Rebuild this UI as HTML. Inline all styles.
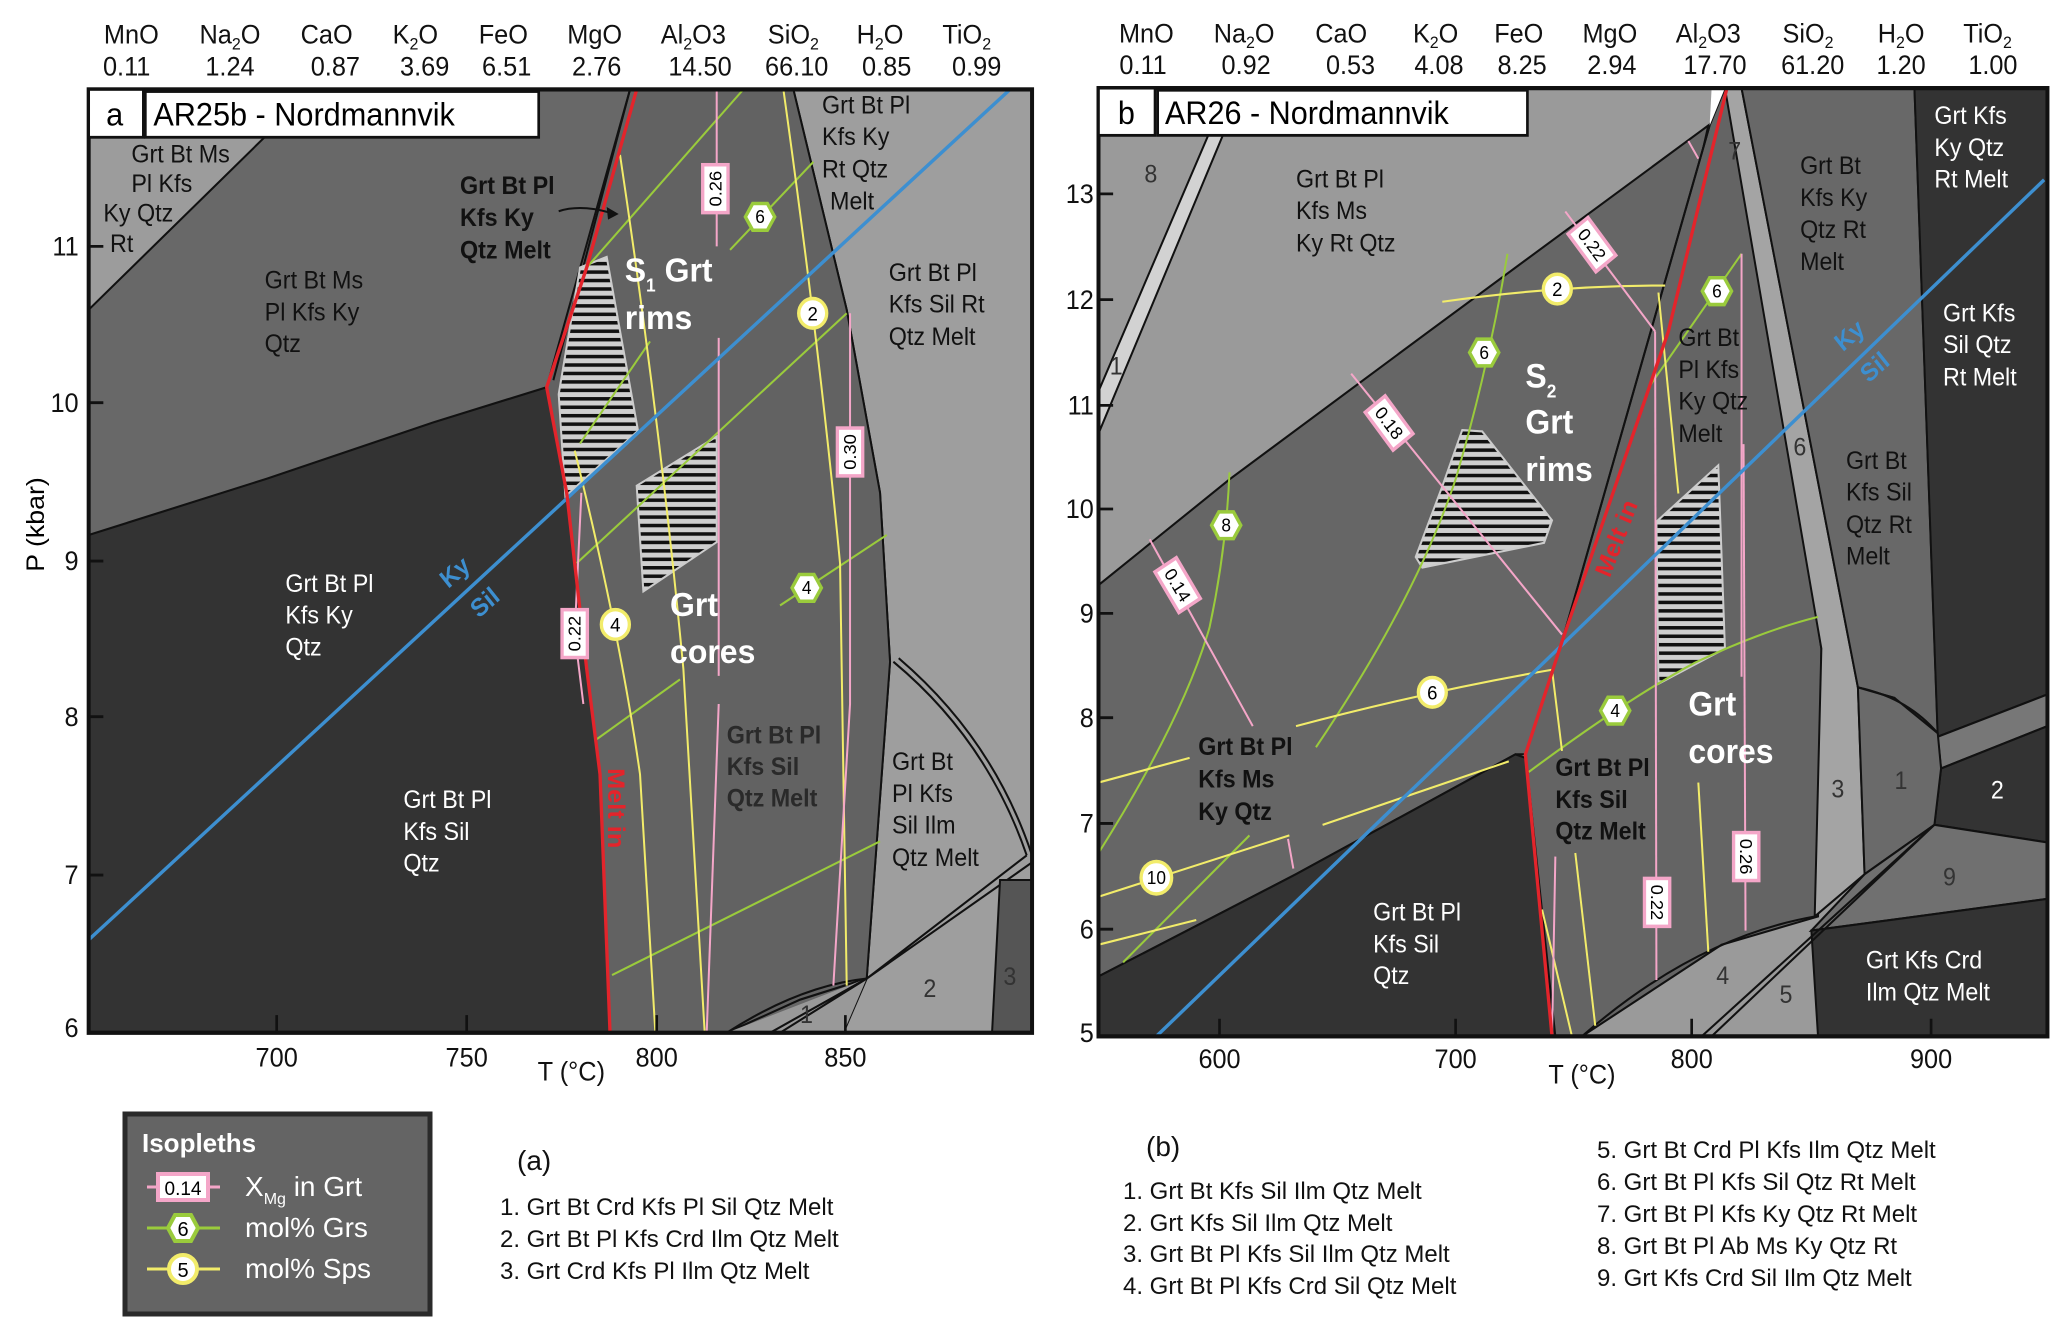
<!DOCTYPE html>
<html><head><meta charset="utf-8"><style>
html,body{margin:0;padding:0;background:#fff}
svg{display:block}
text{font-family:"Liberation Sans",Arial,sans-serif}
</style></head><body>
<svg width="2067" height="1335" viewBox="0 0 2067 1335" xmlns="http://www.w3.org/2000/svg">
<defs>
<pattern id="hat" patternUnits="userSpaceOnUse" width="12" height="12">
<rect width="12" height="12" fill="#cfcfcf"/><rect y="0" width="12" height="5" fill="#111"/>
</pattern>
</defs>

<!-- ================= PANEL A ================= -->
<g transform="scale(0.6667,0.704)">
<g font-size="38" fill="#111" text-anchor="middle">
<text x="197" y="62">MnO</text><text x="345" y="62">Na<tspan font-size="24" dy="8">2</tspan><tspan dy="-8">O</tspan></text>
<text x="490" y="62">CaO</text><text x="623" y="62">K<tspan font-size="24" dy="8">2</tspan><tspan dy="-8">O</tspan></text>
<text x="755" y="62">FeO</text><text x="892" y="62">MgO</text><text x="1040" y="62">Al<tspan font-size="24" dy="8">2</tspan><tspan dy="-8">O3</tspan></text>
<text x="1190" y="62">SiO<tspan font-size="24" dy="8">2</tspan></text><text x="1320" y="62">H<tspan font-size="24" dy="8">2</tspan><tspan dy="-8">O</tspan></text>
<text x="1450" y="62">TiO<tspan font-size="24" dy="8">2</tspan></text>
<text x="190" y="107">0.11</text><text x="345" y="107">1.24</text><text x="503" y="107">0.87</text><text x="637" y="107">3.69</text>
<text x="760" y="107">6.51</text><text x="895" y="107">2.76</text><text x="1050" y="107">14.50</text><text x="1195" y="107">66.10</text>
<text x="1330" y="107">0.85</text><text x="1465" y="107">0.99</text>
</g>
<rect x="133" y="127" width="1415" height="1340" fill="#686868"/>
<polygon points="133,127 470,127 133,440" fill="#9c9c9c" stroke="#111" stroke-width="3"/>
<polygon points="133,760 400,680 650,600 820,550 850,700 880,950 900,1100 915,1467 133,1467" fill="#333" stroke="#111" stroke-width="3"/>
<polygon points="1190,127 1548,127 1548,1467 1265,1467 1300,1390 1335,940 1320,700 1270,440" fill="#9e9e9e" stroke="#111" stroke-width="3"/>
<polygon points="945,127 1190,127 1270,440 1320,700 1335,940 1300,1390 1200,1420 1090,1467 915,1467 900,1100 880,950 850,700 820,550" fill="#626262" stroke="#111" stroke-width="3"/>
<path d="M1090,1467 Q1200,1400 1300,1390" fill="none" stroke="#111" stroke-width="3"/>
<polygon points="1090,1467 1300,1390 1265,1467" fill="#999"/>
<path d="M1155,1467 L1300,1390 M1170,1467 L1300,1390" stroke="#111" stroke-width="3" fill="none"/>
<path d="M1340,940 Q1480,1050 1540,1215 M1348,935 Q1490,1050 1548,1215" stroke="#111" stroke-width="3" fill="none"/>
<path d="M1300,1390 L1540,1215 M1300,1390 L1548,1225" stroke="#111" stroke-width="3" fill="none"/>
<polygon points="1500,1250 1548,1250 1548,1467 1488,1467" fill="#555" stroke="#111" stroke-width="3"/>
<path d="M945,127 L830,540" stroke="#111" stroke-width="3"/>
<polygon points="870,380 910,365 957,612 848,705 838,560" fill="url(#hat)" stroke="#ccc" stroke-width="3"/>
<polygon points="955,690 1075,620 1075,770 965,840" fill="url(#hat)" stroke="#ccc" stroke-width="3"/>
<g stroke="#9acb3c" stroke-width="3" fill="none">
<path d="M880,380 L1115,127"/><path d="M1095,355 L1220,230"/><path d="M865,800 L1270,445"/>
<path d="M870,630 L975,485"/><path d="M895,1050 L1020,965"/><path d="M1170,860 L1330,760"/>
<path d="M918,1385 L1320,1195"/>
</g>
<g stroke="#f2ec6a" stroke-width="3" fill="none">
<path d="M930,220 Q990,600 1025,950 L1057,1467"/>
<path d="M862,640 Q930,900 960,1100 L983,1467"/>
<path d="M1175,127 Q1230,500 1260,800 L1270,1400"/>
</g>
<g stroke="#f4a6c8" stroke-width="3" fill="none">
<path d="M1075,127 L1075,350"/><path d="M1078,480 L1078,960"/><path d="M1078,1000 L1060,1467"/>
<path d="M1275,445 L1275,1000 L1250,1400"/><path d="M872,700 L862,900 L875,1000"/>
</g>
<path d="M133,1335 L1515,127" stroke="#3d8fd0" stroke-width="5" fill="none"/>
<path d="M955,127 L880,380 L820,550 L850,700 L880,950 L900,1100 L915,1467" stroke="#e3242b" stroke-width="5" fill="none"/>
<g transform="translate(1073,268) rotate(-90)"><rect x="-34" y="-19" width="68" height="38" fill="#fff" stroke="#f4a6c8" stroke-width="5"/><text font-size="26" text-anchor="middle" y="9">0.26</text></g>
<g transform="translate(1275,642) rotate(-90)"><rect x="-34" y="-19" width="68" height="38" fill="#fff" stroke="#f4a6c8" stroke-width="5"/><text font-size="26" text-anchor="middle" y="9">0.30</text></g>
<g transform="translate(862,900) rotate(-90)"><rect x="-34" y="-19" width="68" height="38" fill="#fff" stroke="#f4a6c8" stroke-width="5"/><text font-size="26" text-anchor="middle" y="9">0.22</text></g>
<g transform="translate(1140,308)"><polygon points="-22,0 -11,-19 11,-19 22,0 11,19 -11,19" fill="#fff" stroke="#9acb3c" stroke-width="5"/><text font-size="26" text-anchor="middle" y="9">6</text></g>
<g transform="translate(1210,835)"><polygon points="-22,0 -11,-19 11,-19 22,0 11,19 -11,19" fill="#fff" stroke="#9acb3c" stroke-width="5"/><text font-size="26" text-anchor="middle" y="9">4</text></g>
<g transform="translate(1219,445)"><circle r="21" fill="#fff" stroke="#f2ec6a" stroke-width="5"/><text font-size="28" text-anchor="middle" y="10">2</text></g>
<g transform="translate(923,887)"><circle r="21" fill="#fff" stroke="#f2ec6a" stroke-width="5"/><text font-size="28" text-anchor="middle" y="10">4</text></g>
<rect x="133" y="127" width="1415" height="1340" fill="none" stroke="#111" stroke-width="6"/>
<rect x="133" y="127" width="82" height="68" fill="#fff" stroke="#111" stroke-width="4"/>
<rect x="218" y="130" width="590" height="65" fill="#fff" stroke="#111" stroke-width="4"/>
<text x="172" y="178" font-size="46" text-anchor="middle">a</text>
<text x="230" y="178" font-size="46">AR25b - Nordmannvik</text>
<g font-size="35" fill="#111" dominant-baseline="central">
<text x="197" y="220">Grt Bt Ms</text><text x="197" y="262">Pl Kfs</text><text x="155" y="304">Ky Qtz</text><text x="165" y="347">Rt</text>
<text x="397" y="399">Grt Bt Ms</text><text x="397" y="444">Pl Kfs Ky</text><text x="397" y="489">Qtz</text>
<text x="1233" y="150">Grt Bt Pl</text><text x="1233" y="195">Kfs Ky</text><text x="1233" y="241">Rt Qtz</text><text x="1245" y="287">Melt</text>
<text x="1333" y="388">Grt Bt Pl</text><text x="1333" y="433">Kfs Sil Rt</text><text x="1333" y="479">Qtz Melt</text>
<text x="1338" y="1083">Grt Bt</text><text x="1338" y="1128">Pl Kfs</text><text x="1338" y="1173">Sil Ilm</text><text x="1338" y="1219">Qtz Melt</text>
<g fill="#fff"><text x="428" y="830">Grt Bt Pl</text><text x="428" y="875">Kfs Ky</text><text x="428" y="920">Qtz</text>
<text x="605" y="1137">Grt Bt Pl</text><text x="605" y="1182">Kfs Sil</text><text x="605" y="1227">Qtz</text></g>
<g font-weight="bold"><text x="690" y="265">Grt Bt  Pl</text><text x="690" y="310">Kfs Ky</text><text x="690" y="356">Qtz Melt</text>
<g fill="#2a2a2a"><text x="1090" y="1045">Grt Bt Pl</text><text x="1090" y="1090">Kfs Sil</text><text x="1090" y="1135">Qtz Melt</text></g></g>
<g fill="#333"><text x="1200" y="1442">1</text><text x="1385" y="1405">2</text><text x="1505" y="1388">3</text></g>
</g>
<path d="M838,300 Q870,290 915,302" stroke="#111" stroke-width="3" fill="none"/>
<polygon points="928,304 910,294 912,312" fill="#111"/>
<g font-weight="bold" fill="#fff" font-size="48">
<text x="937" y="400">S<tspan font-size="26" dy="14">1</tspan><tspan dy="-14"> Grt</tspan></text>
<text x="937" y="467">rims</text>
<text x="1005" y="875">Grt</text><text x="1005" y="942">cores</text>
</g>
<text transform="translate(690,822) rotate(-40)" font-size="36" font-weight="bold" fill="#3d8fd0" text-anchor="middle">Ky</text>
<text transform="translate(735,865) rotate(-40)" font-size="36" font-weight="bold" fill="#3d8fd0" text-anchor="middle">Sil</text>
<text transform="translate(912,1148) rotate(90)" font-size="36" font-weight="bold" fill="#e3242b" text-anchor="middle">Melt in</text>
<g font-size="38" fill="#111" text-anchor="end">
<text x="118" y="363">11</text><text x="118" y="585">10</text><text x="118" y="810">9</text><text x="118" y="1031">8</text><text x="118" y="1256">7</text><text x="118" y="1473">6</text>
</g>
<g stroke="#111" stroke-width="4"><path d="M133,350 h22 M133,572 h22 M133,797 h22 M133,1018 h22 M133,1243 h22 M415,1467 v-25 M700,1467 v-25 M985,1467 v-25 M1268,1467 v-25"/></g>
<g font-size="38" fill="#111" text-anchor="middle">
<text x="415" y="1515">700</text><text x="700" y="1515">750</text><text x="985" y="1515">800</text><text x="1268" y="1515">850</text>
<text x="857" y="1535">T (°C)</text>
</g>
<text transform="translate(66,745) rotate(-90)" font-size="38" text-anchor="middle">P (kbar)</text>
</g>

<!-- ================= PANEL B ================= -->
<g transform="translate(1030,0) scale(0.665,0.705)">
<g font-size="38" fill="#111" text-anchor="middle">
<text x="175" y="60">MnO</text><text x="322" y="60">Na<tspan font-size="24" dy="8">2</tspan><tspan dy="-8">O</tspan></text>
<text x="468" y="60">CaO</text><text x="610" y="60">K<tspan font-size="24" dy="8">2</tspan><tspan dy="-8">O</tspan></text>
<text x="735" y="60">FeO</text><text x="872" y="60">MgO</text><text x="1020" y="60">Al<tspan font-size="24" dy="8">2</tspan><tspan dy="-8">O3</tspan></text>
<text x="1170" y="60">SiO<tspan font-size="24" dy="8">2</tspan></text><text x="1310" y="60">H<tspan font-size="24" dy="8">2</tspan><tspan dy="-8">O</tspan></text>
<text x="1440" y="60">TiO<tspan font-size="24" dy="8">2</tspan></text>
<text x="170" y="105">0.11</text><text x="325" y="105">0.92</text><text x="482" y="105">0.53</text><text x="615" y="105">4.08</text>
<text x="740" y="105">8.25</text><text x="875" y="105">2.94</text><text x="1030" y="105">17.70</text><text x="1177" y="105">61.20</text>
<text x="1310" y="105">1.20</text><text x="1448" y="105">1.00</text>
</g>
<rect x="103" y="125" width="1427" height="1345" fill="#9a9a9a"/>
<polygon points="103,555 268,192 290,192 103,615" fill="#d2d2d2" stroke="#111" stroke-width="3"/>
<polygon points="103,830 300,680 600,470 1020,178 960,430 850,800 800,910 745,1070 730,1070 400,1240 103,1385" fill="#666" stroke="#111" stroke-width="3"/>
<polygon points="103,1385 400,1240 730,1070 745,1075 790,1470 103,1470" fill="#333" stroke="#111" stroke-width="3"/>
<polygon points="1022,178 1045,125 1060,125 1190,920 1185,1300 1040,1340 830,1470 790,1470 745,1070 800,910" fill="#646464" stroke="#111" stroke-width="3"/>
<polygon points="1045,125 1070,125 1245,975 1255,1240 1180,1300 1190,920" fill="#a4a4a4" stroke="#111" stroke-width="3"/>
<polygon points="1070,125 1330,125 1365,1040 1370,1090 1300,990 1245,975" fill="#686868" stroke="#111" stroke-width="3"/>
<polygon points="1330,125 1530,125 1530,985 1365,1045" fill="#333" stroke="#111" stroke-width="3"/>
<polygon points="1365,1045 1530,985 1530,1030 1370,1090" fill="#777" stroke="#111" stroke-width="3"/>
<polygon points="1370,1090 1530,1030 1530,1195 1360,1170" fill="#333" stroke="#111" stroke-width="3"/>
<polygon points="1245,975 1300,990 1365,1040 1370,1090 1360,1170 1255,1240" fill="#6a6a6a" stroke="#111" stroke-width="3"/>
<polygon points="1360,1170 1530,1195 1530,1275 1175,1320 1255,1240" fill="#707070" stroke="#111" stroke-width="3"/>
<polygon points="1175,1320 1530,1275 1530,1470 1185,1470" fill="#333" stroke="#111" stroke-width="3"/>
<path d="M1010,1470 L1360,1170 M1025,1470 L1360,1170" stroke="#111" stroke-width="3" fill="none"/>
<path d="M830,1470 Q1000,1330 1180,1300" stroke="#111" stroke-width="3" fill="none"/>
<path d="M1245,975 Q1320,990 1365,1040" stroke="#111" stroke-width="3" fill="none"/>
<polygon points="1025,125 1045,125 1022,178" fill="#fff"/>
<path d="M1022,178 L800,910" stroke="#111" stroke-width="3"/>
<polygon points="650,610 680,612 785,738 773,770 590,805 580,790 620,690" fill="url(#hat)" stroke="#ccc" stroke-width="3"/>
<polygon points="942,740 1035,660 1045,920 945,970" fill="url(#hat)" stroke="#ccc" stroke-width="3"/>
<g stroke="#9acb3c" stroke-width="3" fill="none">
<path d="M103,1210 Q230,1020 270,890 Q295,780 300,670"/>
<path d="M430,1060 Q580,850 640,680 Q690,520 718,360"/>
<path d="M140,1365 L330,1185"/>
<path d="M750,1095 Q900,990 1000,940 Q1100,895 1185,875"/>
<path d="M930,550 L1070,360"/>
</g>
<g stroke="#f2ec6a" stroke-width="3" fill="none">
<path d="M620,428 Q790,405 955,405"/>
<path d="M103,1110 L240,1075"/><path d="M400,1030 Q600,980 785,950 L800,1065"/>
<path d="M103,1272 L390,1185"/><path d="M440,1170 L720,1080"/>
<path d="M103,1340 L250,1305"/>
<path d="M945,415 L975,700"/><path d="M820,1210 L850,1455"/><path d="M1005,1110 L1020,1350"/><path d="M770,1290 L815,1470"/>
</g>
<g stroke="#f4a6c8" stroke-width="3" fill="none">
<path d="M180,765 L335,1030"/><path d="M388,1190 L396,1232"/>
<path d="M483,530 L800,900"/><path d="M805,300 L940,470"/><path d="M940,470 L942,1390"/>
<path d="M1073,630 L1076,1320"/><path d="M990,200 L1005,225"/><path d="M1070,360 L1070,960"/><path d="M790,1215 L785,1470"/>
</g>
<path d="M190,1470 L1525,255" stroke="#3d8fd0" stroke-width="5" fill="none"/>
<path d="M1048,125 L960,470 L800,910 L745,1070 L785,1470" stroke="#e3242b" stroke-width="5" fill="none"/>
<g transform="translate(222,830) rotate(58)"><rect x="-34" y="-19" width="68" height="38" fill="#fff" stroke="#f4a6c8" stroke-width="5"/><text font-size="26" text-anchor="middle" y="9">0.14</text></g>
<g transform="translate(540,600) rotate(52)"><rect x="-34" y="-19" width="68" height="38" fill="#fff" stroke="#f4a6c8" stroke-width="5"/><text font-size="26" text-anchor="middle" y="9">0.18</text></g>
<g transform="translate(845,347) rotate(52)"><rect x="-34" y="-19" width="68" height="38" fill="#fff" stroke="#f4a6c8" stroke-width="5"/><text font-size="26" text-anchor="middle" y="9">0.22</text></g>
<g transform="translate(943,1280) rotate(90)"><rect x="-34" y="-19" width="68" height="38" fill="#fff" stroke="#f4a6c8" stroke-width="5"/><text font-size="26" text-anchor="middle" y="9">0.22</text></g>
<g transform="translate(1077,1215) rotate(90)"><rect x="-34" y="-19" width="68" height="38" fill="#fff" stroke="#f4a6c8" stroke-width="5"/><text font-size="26" text-anchor="middle" y="9">0.26</text></g>
<g transform="translate(295,745)"><polygon points="-22,0 -11,-19 11,-19 22,0 11,19 -11,19" fill="#fff" stroke="#9acb3c" stroke-width="5"/><text font-size="26" text-anchor="middle" y="9">8</text></g>
<g transform="translate(683,500)"><polygon points="-22,0 -11,-19 11,-19 22,0 11,19 -11,19" fill="#fff" stroke="#9acb3c" stroke-width="5"/><text font-size="26" text-anchor="middle" y="9">6</text></g>
<g transform="translate(880,1008)"><polygon points="-22,0 -11,-19 11,-19 22,0 11,19 -11,19" fill="#fff" stroke="#9acb3c" stroke-width="5"/><text font-size="26" text-anchor="middle" y="9">4</text></g>
<g transform="translate(1033,413)"><polygon points="-22,0 -11,-19 11,-19 22,0 11,19 -11,19" fill="#fff" stroke="#9acb3c" stroke-width="5"/><text font-size="26" text-anchor="middle" y="9">6</text></g>
<g transform="translate(793,410)"><circle r="21" fill="#fff" stroke="#f2ec6a" stroke-width="5"/><text font-size="28" text-anchor="middle" y="10">2</text></g>
<g transform="translate(605,982)"><circle r="21" fill="#fff" stroke="#f2ec6a" stroke-width="5"/><text font-size="28" text-anchor="middle" y="10">6</text></g>
<g transform="translate(190,1245)"><circle r="23" fill="#fff" stroke="#f2ec6a" stroke-width="5"/><text font-size="26" text-anchor="middle" y="9">10</text></g>
<rect x="103" y="125" width="1427" height="1345" fill="none" stroke="#111" stroke-width="6"/>
<rect x="103" y="125" width="85" height="67" fill="#fff" stroke="#111" stroke-width="4"/>
<rect x="192" y="128" width="556" height="64" fill="#fff" stroke="#111" stroke-width="4"/>
<text x="145" y="176" font-size="46" text-anchor="middle">b</text>
<text x="203" y="176" font-size="46">AR26 - Nordmannvik</text>
<g font-size="35" fill="#111" dominant-baseline="central">
<text x="400" y="255">Grt Bt Pl</text><text x="400" y="300">Kfs Ms</text><text x="400" y="346">Ky Rt Qtz</text>
<text x="975" y="480">Grt Bt</text><text x="975" y="525">Pl Kfs</text><text x="975" y="570">Ky Qtz</text><text x="975" y="616">Melt</text>
<text x="1158" y="236">Grt Bt</text><text x="1158" y="281">Kfs Ky</text><text x="1158" y="327">Qtz Rt</text><text x="1158" y="372">Melt</text>
<text x="1227" y="654">Grt Bt</text><text x="1227" y="699">Kfs Sil</text><text x="1227" y="745">Qtz Rt</text><text x="1227" y="790">Melt</text>
<g fill="#fff"><text x="1360" y="165">Grt Kfs</text><text x="1360" y="210">Ky Qtz</text><text x="1360" y="255">Rt Melt</text>
<text x="1373" y="445">Grt Kfs</text><text x="1373" y="490">Sil Qtz</text><text x="1373" y="536">Rt Melt</text>
<text x="516" y="1295">Grt Bt Pl</text><text x="516" y="1340">Kfs Sil</text><text x="516" y="1385">Qtz</text>
<text x="1257" y="1363">Grt Kfs Crd</text><text x="1257" y="1408">Ilm Qtz Melt</text>
<text x="1445" y="1122">2</text></g>
<g font-weight="bold"><text x="253" y="1060">Grt Bt Pl</text><text x="253" y="1106">Kfs Ms</text><text x="253" y="1152">Ky Qtz</text>
<text x="790" y="1090">Grt Bt Pl</text><text x="790" y="1135">Kfs Sil</text><text x="790" y="1180">Qtz Melt</text></g>
<g fill="#333"><text x="172" y="248">8</text><text x="120" y="520">1</text><text x="1050" y="215">7</text><text x="1148" y="635">6</text>
<text x="1205" y="1120">3</text><text x="1300" y="1108">1</text><text x="1373" y="1245">9</text><text x="1032" y="1385">4</text><text x="1127" y="1412">5</text></g>
</g>
<g font-weight="bold" fill="#fff" font-size="48">
<text x="745" y="550">S<tspan font-size="26" dy="14">2</tspan></text>
<text x="745" y="615">Grt</text><text x="745" y="682">rims</text>
<text x="990" y="1015">Grt</text><text x="990" y="1082">cores</text>
</g>
<text transform="translate(1240,485) rotate(-40)" font-size="36" font-weight="bold" fill="#3d8fd0" text-anchor="middle">Ky</text>
<text transform="translate(1278,530) rotate(-40)" font-size="36" font-weight="bold" fill="#3d8fd0" text-anchor="middle">Sil</text>
<text transform="translate(893,768) rotate(-68)" font-size="36" font-weight="bold" fill="#e3242b" text-anchor="middle">Melt in</text>
<g font-size="38" fill="#111" text-anchor="end">
<text x="96" y="288">13</text><text x="96" y="438">12</text><text x="96" y="588">11</text><text x="96" y="735">10</text><text x="96" y="883">9</text>
<text x="96" y="1031">8</text><text x="96" y="1181">7</text><text x="96" y="1331">6</text><text x="96" y="1478">5</text>
</g>
<g stroke="#111" stroke-width="4"><path d="M103,275 h22 M103,425 h22 M103,575 h22 M103,722 h22 M103,870 h22 M103,1018 h22 M103,1168 h22 M103,1318 h22 M285,1470 v-25 M640,1470 v-25 M995,1470 v-25 M1355,1470 v-25"/></g>
<g font-size="38" fill="#111" text-anchor="middle">
<text x="285" y="1515">600</text><text x="640" y="1515">700</text><text x="995" y="1515">800</text><text x="1355" y="1515">900</text>
<text x="830" y="1537">T (°C)</text>
</g>
</g>

<!-- ================= LEGEND ================= -->
<rect x="125" y="1114" width="305" height="200" fill="#646464" stroke="#2a2a2a" stroke-width="5"/>
<text x="142" y="1152" font-size="26" font-weight="bold" fill="#fff">Isopleths</text>
<path d="M147,1187 H220" stroke="#f4a6c8" stroke-width="3"/>
<rect x="158" y="1174" width="50" height="26" fill="#fff" stroke="#f4a6c8" stroke-width="4"/>
<text x="183" y="1195" font-size="19" text-anchor="middle">0.14</text>
<path d="M147,1228 H220" stroke="#9acb3c" stroke-width="3"/>
<polygon points="168,1228 175,1215 191,1215 198,1228 191,1241 175,1241" fill="#fff" stroke="#9acb3c" stroke-width="4"/>
<text x="183" y="1236" font-size="20" text-anchor="middle">6</text>
<path d="M147,1269 H220" stroke="#f2ec6a" stroke-width="3"/>
<circle cx="183" cy="1269" r="14" fill="#fff" stroke="#f2ec6a" stroke-width="4"/>
<text x="183" y="1277" font-size="20" text-anchor="middle">5</text>
<g font-size="28" fill="#fff">
<text x="245" y="1196">X<tspan font-size="16" dy="8">Mg</tspan><tspan dy="-8"> in Grt</tspan></text>
<text x="245" y="1237">mol% Grs</text>
<text x="245" y="1278">mol% Sps</text>
</g>
<g font-size="24" fill="#111">
<text x="517" y="1170" font-size="28">(a)</text>
<text x="500" y="1215">1. Grt Bt Crd Kfs Pl Sil Qtz Melt</text>
<text x="500" y="1247">2. Grt Bt Pl Kfs Crd Ilm Qtz Melt</text>
<text x="500" y="1279">3. Grt Crd Kfs Pl Ilm Qtz Melt</text>
<text x="1146" y="1156" font-size="28">(b)</text>
<text x="1123" y="1199">1. Grt Bt Kfs Sil Ilm Qtz Melt</text>
<text x="1123" y="1231">2. Grt Kfs Sil Ilm Qtz Melt</text>
<text x="1123" y="1262">3. Grt Bt Pl Kfs Sil Ilm Qtz Melt</text>
<text x="1123" y="1294">4. Grt Bt Pl Kfs Crd Sil Qtz Melt</text>
<text x="1597" y="1158">5. Grt Bt Crd Pl Kfs Ilm Qtz Melt</text>
<text x="1597" y="1190">6. Grt Bt Pl Kfs Sil Qtz Rt Melt</text>
<text x="1597" y="1222">7. Grt Bt Pl Kfs Ky Qtz Rt Melt</text>
<text x="1597" y="1254">8. Grt Bt Pl Ab Ms Ky Qtz Rt</text>
<text x="1597" y="1286">9. Grt Kfs Crd Sil Ilm Qtz Melt</text>
</g>
</svg>
</body></html>
